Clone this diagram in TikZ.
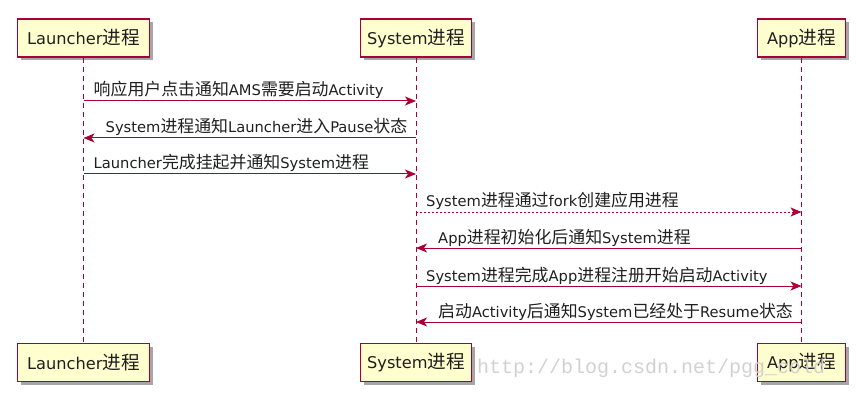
\documentclass[tikz,border=0pt]{standalone}
\usepackage{fontspec}
\setmainfont{DejaVu Sans}
\newfontfamily\cjk[Scale=1.15]{Noto Sans CJK SC}
\newfontfamily\wmfont{Liberation Mono}
\usetikzlibrary{arrows.meta}
\definecolor{pumlred}{HTML}{A80036}
\definecolor{pumlfill}{HTML}{FEFECE}
\newcommand\C[1]{{\cjk #1}}
\begin{document}
\begin{tikzpicture}[x=1pt,y=-1pt,
  actor/.style={draw=pumlred, line width=1.6pt, fill=pumlfill, minimum height=38pt, inner sep=0pt,
    font=\fontsize{16.2}{19}\selectfont, text=black!88,
    preaction={draw=none, fill=black!35, transform canvas={shift={(3.5pt,-3.5pt)}}}},
  life/.style={draw=pumlred, line width=1pt, dash pattern=on 5pt off 4pt},
  msg/.style={draw=pumlred, line width=1pt, -{Stealth[length=11pt,width=9pt,inset=3pt]}},
  dmsg/.style={msg, dash pattern=on 2pt off 2pt},
  lbl/.style={anchor=base west, inner sep=0pt, font=\fontsize{14.7}{17}\selectfont, text=black!88},
  wm/.style={anchor=base west, inner sep=0pt, font=\wmfont\fontsize{20}{20}\selectfont, text=black!18}]
\useasboundingbox (0,0) rectangle (868,409);

\node[actor, minimum width=132pt] (Lt) at (83.5,38) {Launcher\C{进程}};
\node[actor, minimum width=111pt] (St) at (416,38) {System\C{进程}};
\node[actor, minimum width=88pt]  (At) at (801.5,38) {App\C{进程}};
\node[actor, minimum width=132pt] (Lb) at (83.5,362.5) {Launcher\C{进程}};
\node[actor, minimum width=111pt] (Sb) at (416,362.5) {System\C{进程}};
\node[actor, minimum width=88pt]  (Ab) at (801.5,362.5) {App\C{进程}};

\draw[life] (Lt.south) -- (Lb.north);
\draw[life] (St.south) -- (Sb.north);
\draw[life] (At.south) -- (Ab.north);

\foreach \n/\y in {1/101,2/138,3/174,4/212,5/248,6/286,7/322}{
  \coordinate (l\n) at (Lt |- 0,\y);
  \coordinate (s\n) at (St |- 0,\y);
  \coordinate (a\n) at (At |- 0,\y);
}

\draw[msg] (l1) -- (s1);
\path (l1) ++(10,-5) node[lbl] (m1) {\C{响应用户点击通知}AMS\C{需要启动}Activity};
\draw[msg] (s2) -- (l2);
\path (l2) ++(22,-5) node[lbl] (m2) {System\C{进程通知}Launcher\C{进入}Pause\C{状态}};
\draw[msg] (l3) -- (s3);
\path (l3) ++(10,-5) node[lbl] (m3) {Launcher\C{完成挂起并通知}System\C{进程}};
\draw[dmsg] (s4) -- (a4);
\path (s4) ++(10,-5) node[lbl] (m4) {System\C{进程通过}fork\C{创建应用进程}};
\draw[msg] (a5) -- (s5);
\path (s5) ++(22,-5) node[lbl] (m5) {App\C{进程初始化后通知}System\C{进程}};
\draw[msg] (s6) -- (a6);
\path (s6) ++(10,-5) node[lbl] (m6) {System\C{进程完成}App\C{进程注册开始启动}Activity};
\draw[msg] (a7) -- (s7);
\path (s7) ++(22,-5) node[lbl] (m7) {\C{启动}Activity\C{后通知}System\C{已经处于}Resume\C{状态}};

\node[wm] (wmark) at (477,373) {http://blog.csdn.net/pgg\_cold};
\end{tikzpicture}
\end{document}
